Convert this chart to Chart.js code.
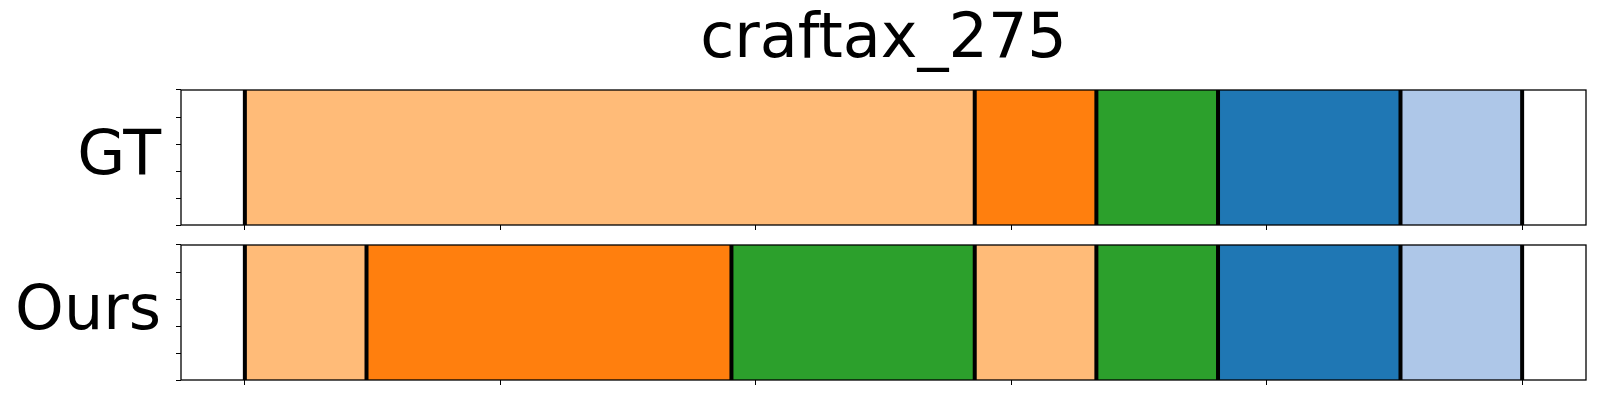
<!DOCTYPE html>
<html>
<head>
<meta charset="utf-8">
<script src="https://cdn.jsdelivr.net/npm/chart.js@4/dist/chart.umd.min.js"></script>
<style>
  html, body { margin: 0; padding: 0; background: #fff; }
  .panel { position: absolute; left: 0; width: 1600px; }
  #top { top: 0; height: 235px; }
  #bot { top: 235px; height: 165px; }
</style>
</head>
<body>
<div class="panel" id="top"><canvas id="gtChart"></canvas></div>
<div class="panel" id="bot"><canvas id="oursChart"></canvas></div>
<script>
const FONT = "'DejaVu Sans', sans-serif";

// class colours (tab20 picks)
const classColors = ['#ffbb78', '#ff7f0e', '#2ca02c', '#1f77b4', '#aec7e8'];

// segment boundaries (frame index) and class of each segment
const gtBounds   = [0, 12, 14, 16, 19, 21];
const gtClass    = [0, 1, 2, 3, 4];
const oursBounds = [0, 2, 8, 12, 14, 16, 19, 21];
const oursClass  = [0, 1, 2, 0, 2, 3, 4];

// x tick marks (no labels) and y tick marks
const xTicks = [0, 4.2, 8.4, 12.6, 16.8, 21];
const yTicks = [0, 0.25, 0.5, 0.75, 1];
const xMin = -1.05, xMax = 22.05;

// thick black segment boundaries + axes frame
const boundsPlugin = {
  id: 'bounds',
  afterDatasetsDraw(chart, args, opts) {
    const { ctx, chartArea: a, scales } = chart;
    ctx.save();
    ctx.strokeStyle = '#000';
    ctx.lineWidth = 4;
    opts.values.forEach(v => {
      const x = scales.x.getPixelForValue(v);
      ctx.beginPath();
      ctx.moveTo(x, a.top);
      ctx.lineTo(x, a.bottom);
      ctx.stroke();
    });
    ctx.lineWidth = 1.3;
    ctx.strokeRect(a.left, a.top, a.right - a.left, a.bottom - a.top);
    ctx.restore();
  }
};

function makePanel(id, label, bounds, cls, title, padding) {
  const datasets = cls.map((c, i) => ({
    data: [[bounds[i], bounds[i + 1]]],
    backgroundColor: classColors[c],
    borderWidth: 0,
    barPercentage: 1,
    categoryPercentage: 1,
    grouped: false,
  }));
  return new Chart(document.getElementById(id), {
    type: 'bar',
    data: { labels: [label], datasets },
    options: {
      indexAxis: 'y',
      responsive: true,
      maintainAspectRatio: false,
      animation: false,
      layout: { padding },
      plugins: {
        legend: { display: false },
        tooltip: { enabled: false },
        title: title ? {
          display: true, text: title, fullSize: false,
          color: '#000', font: { family: FONT, size: 62, weight: 'normal' },
          padding: { top: 4, bottom: 11.6 }
        } : { display: false },
        bounds: { values: bounds }
      },
      scales: {
        x: {
          type: 'linear', min: xMin, max: xMax,
          afterBuildTicks: s => { s.ticks = xTicks.map(v => ({ value: v })); },
          ticks: { display: false },
          grid: { drawOnChartArea: false, drawTicks: true, tickLength: 5, color: '#000' },
          border: { display: false }
        },
        y: {
          type: 'category', position: 'left', weight: 1,
          afterFit: s => { s.width = 176; s.paddingTop = 0; s.paddingBottom = 0; },
          ticks: { color: '#000', font: { family: FONT, size: 62 }, padding: 15 },
          grid: { display: false, drawTicks: false },
          border: { display: false }
        },
        y2: {
          type: 'linear', position: 'left', weight: 0, min: 0, max: 1,
          afterBuildTicks: s => { s.ticks = yTicks.map(v => ({ value: v })); },
          ticks: { display: false },
          grid: { drawOnChartArea: false, drawTicks: true, tickLength: 5, color: '#000' },
          border: { display: false }
        }
      }
    },
    plugins: [boundsPlugin]
  });
}

makePanel('gtChart', 'GT', gtBounds, gtClass, 'craftax_275', { left: 0, right: 14, top: 0, bottom: 5 });
makePanel('oursChart', 'Ours', oursBounds, oursClass, null, { left: 0, right: 14, top: 10, bottom: 15 });
</script>
</body>
</html>
